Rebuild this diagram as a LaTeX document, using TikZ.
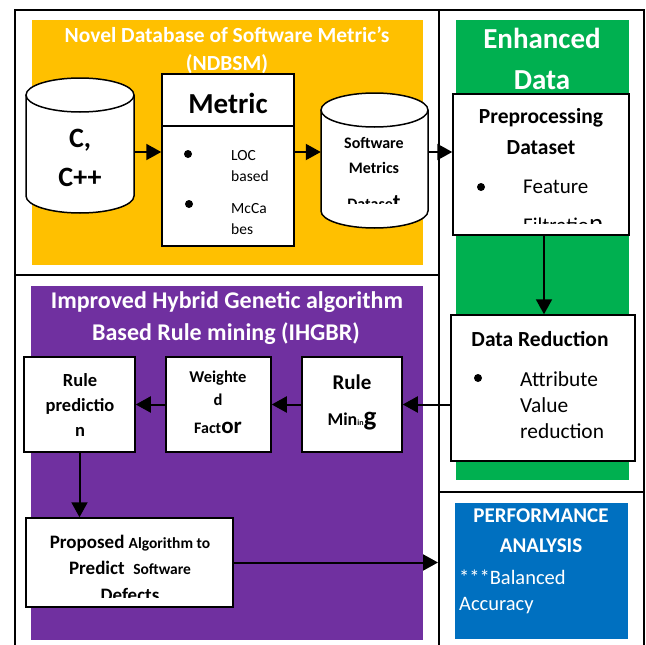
\documentclass[tikz,border=0pt]{standalone}
\usepackage{fontspec}
\setmainfont{Carlito}
\usetikzlibrary{arrows.meta}
\definecolor{cyel}{HTML}{FFC000}
\definecolor{cgrn}{HTML}{00B050}
\definecolor{cpur}{HTML}{7030A0}
\definecolor{cblu}{HTML}{0070C0}
\newcommand{\fsz}[1]{\fontsize{#1}{#1}\selectfont}
\begin{document}
\begin{tikzpicture}[x=1pt,y=-1pt,
  frame/.style={line width=2pt, black},
  box/.style={draw=black, line width=1.5pt, fill=white, inner sep=0},
  panel/.style={inner sep=0, draw=none},
  arr/.style={line width=2pt, -{Triangle[length=15pt,width=16pt]}},
  txt/.style={inner sep=0, anchor=center},
  wt/.style={txt, text=white},
  dot/.style={circle, fill=black, inner sep=0, minimum size=8pt},
  cyl/.style={line width=1.5pt, fill=white}
]
\useasboundingbox (0,0) rectangle (646,645);
% frame
\draw[frame] (15,645) -- (15,10) -- (644,10) -- (644,645);
\draw[frame] (439,10) -- (439,645);
\draw[frame] (15,275) -- (439,275);
\draw[frame] (439,492) -- (644,492);
% panels
\node[panel, fill=cyel, minimum width=391, minimum height=245] (ndbsm) at (227.5,142.5) {};
\node[panel, fill=cgrn, minimum width=173, minimum height=460] (enh) at (542.5,250) {};
\node[panel, fill=cpur, minimum width=392, minimum height=354] (ihgbr) at (227,463) {};
\node[panel, fill=cblu, minimum width=173, minimum height=136] (perf) at (541.5,571) {};
% panel titles
\node[wt, font=\bfseries\fsz{21.5}] (t1a) at (227,35) {Novel Database of Software Metric's};
\node[wt, font=\bfseries\fsz{21.5}] (t1b) at (227,64) {(NDBSM)};
\node[wt, font=\bfseries\fsz{29}] (t2a) at (542,38) {Enhanced};
\node[wt, font=\bfseries\fsz{29}] (t2b) at (542,80) {Data};
\node[wt, font=\bfseries\fsz{24}] (t3a) at (227,302) {Improved Hybrid Genetic algorithm};
\node[wt, font=\bfseries\fsz{24}] (t3b) at (226,334) {Based Rule mining (IHGBR)};
\node[wt, font=\bfseries\fsz{21}] (t4a) at (541,516) {PERFORMANCE};
\node[wt, font=\bfseries\fsz{21}] (t4b) at (541,546) {ANALYSIS};
\node[wt, anchor=west, font=\fsz{20.5}] (t4c) at (459,577) {***Balanced};
\node[wt, anchor=west, font=\fsz{20.5}] (t4d) at (459,606) {Accuracy};
% cylinder C, C++
\draw[cyl] (26,95) -- (26,196) arc[start angle=180, end angle=360, x radius=54pt, y radius=17pt] -- (134,95);
\draw[cyl] (80,95) ellipse[x radius=54pt, y radius=17pt];
\node[inner sep=0, minimum width=108, minimum height=20] (cpp) at (80,152) {};
\node[txt, font=\bfseries\fsz{28}] (cppa) at (80,140) {C,};
\node[txt, font=\bfseries\fsz{28}] (cppb) at (80,177) {C++};
% metric box
\node[box, minimum width=132, minimum height=172] (metric) at (228,160) {};
\draw[line width=1.5pt] (metric.west |- 0,126) -- (metric.east |- 0,126);
\node[txt, font=\bfseries\fsz{29}] (metrict) at (228,103) {Metric};
\node[dot] (mb1) at (188,154) {};
\node[dot] (mb2) at (189,204) {};
\node[txt, anchor=west, font=\fsz{15.5}] (ml1) at (231,156) {LOC};
\node[txt, anchor=west, font=\fsz{15.5}] (ml2) at (231,176) {based};
\node[txt, anchor=west, font=\fsz{15.5}] (ml3) at (231,209) {McCa};
\node[txt, anchor=west, font=\fsz{15.5}] (ml4) at (231,229) {bes};
% cylinder software metrics dataset
\draw[cyl] (321,110) -- (321,211) arc[start angle=180, end angle=360, x radius=53.5pt, y radius=17pt] -- (428,110);
\draw[cyl] (374.5,110) ellipse[x radius=53.5pt, y radius=17pt];
\node[inner sep=0, minimum width=107, minimum height=20] (smd) at (374.5,152) {};
\node[txt, font=\bfseries\fsz{16}] (smda) at (374,143) {Software};
\node[txt, font=\bfseries\fsz{16}] (smdb) at (374,168) {Metrics};
\begin{scope}
\clip (322,185) rectangle (427,203.5);
\node[txt, anchor=base, font=\bfseries\fsz{16}] (smdc) at (374,209) {Datase{\fsz{22}t}};
\end{scope}
% preprocessing box
\node[box, minimum width=176, minimum height=141] (prep) at (541,164.5) {};
\node[txt, font=\bfseries\fsz{21.5}] (prepa) at (541,118) {Preprocessing};
\node[txt, font=\bfseries\fsz{21.5}] (prepb) at (541,148) {Dataset};
\node[dot] (pb1) at (481,187) {};
\node[txt, anchor=west, font=\fsz{21}] (prepc) at (523,187) {Feature};
\begin{scope}
\clip (455,205) rectangle (627,223);
\node[txt, anchor=base west, font=\fsz{21}] (prepd) at (523,232) {Filtratio{\fsz{27}n}};
\end{scope}
% data reduction box
\node[box, minimum width=184, minimum height=146] (datared) at (543,388) {};
\node[txt, font=\bfseries\fsz{21.5}] (dra) at (540,339) {Data Reduction};
\node[dot] (db1) at (478,378) {};
\node[txt, anchor=west, font=\fsz{21.4}] (drb) at (520,379) {Attribute};
\node[txt, anchor=west, font=\fsz{21.4}] (drc) at (520,405) {Value};
\node[txt, anchor=west, font=\fsz{21.4}] (drd) at (520,431) {reduction};
% rule mining
\node[box, minimum width=100, minimum height=95] (rm) at (352,404.5) {};
\node[txt, font=\bfseries\fsz{21}] (rma) at (352,382) {Rule};
\node[txt, anchor=base, font=\bfseries\fsz{18}] (rmb) at (352,425) {Min{\fsz{8}in}{\fsz{27}g}};
% weighted factor
\node[box, minimum width=105, minimum height=95] (wf) at (218.5,404.5) {};
\node[txt, font=\bfseries\fsz{16.5}] (wfa) at (218,378) {Weighte};
\node[txt, font=\bfseries\fsz{16.5}] (wfb) at (218,400) {d};
\node[txt, anchor=base, font=\bfseries\fsz{16}] (wfc) at (218,433) {Fact{\fsz{23}or}};
% rule prediction
\node[box, minimum width=111, minimum height=95] (rp) at (79.5,404.5) {};
\node[txt, font=\bfseries\fsz{18.5}] (rpa) at (80,380) {Rule};
\node[txt, font=\bfseries\fsz{18.5}] (rpb) at (80,406) {predictio};
\node[txt, font=\bfseries\fsz{18.5}] (rpc) at (80,432) {n};
% proposed
\node[box, minimum width=207, minimum height=89] (prop) at (129.5,562.5) {};
\node[txt, anchor=base, font=\bfseries\fsz{19}] (pra) at (130,548) {Proposed {\fsz{15.5}Algorithm to}};
\node[txt, anchor=base, font=\bfseries\fsz{19}] (prb) at (130,574) {Predict\ \ {\fsz{15.5}Software}};
\begin{scope}
\clip (28,585) rectangle (231,597);
\node[txt, anchor=base, font=\bfseries\fsz{19}] (prc) at (130,601) {Defects};
\end{scope}
\coordinate (perfin) at (438,562.5);
% connectors
\draw[arr] (cpp.east) -- (metric.west |- cpp.east);
\draw[arr] (metric.east |- smd.west) -- (smd.west);
\draw[arr] (smd.east) -- (prep.west |- smd.east);
\draw[arr] (prep.south -| 544,0) -- (datared.north -| 544,0);
\draw[arr] (datared.west |- rm.east) -- (rm.east);
\draw[arr] (rm.west) -- (wf.east);
\draw[arr] (wf.west) -- (rp.east);
\draw[arr] (rp.south) -- (rp.south |- prop.north);
\draw[arr] (prop.east) -- (perfin);
\end{tikzpicture}
\end{document}
